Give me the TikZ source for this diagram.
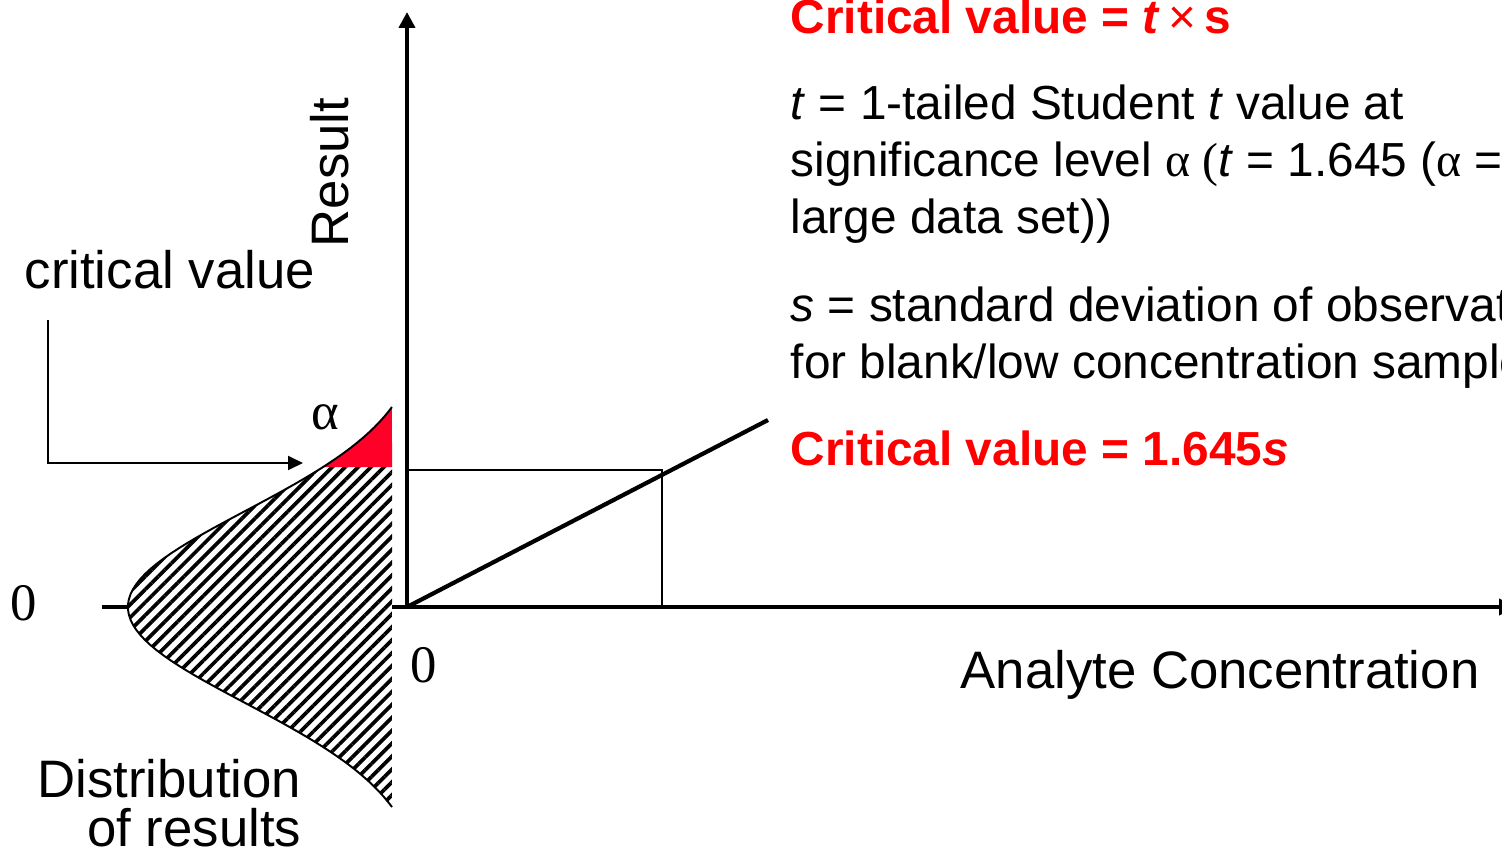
\documentclass[tikz,border=0pt]{standalone}
\usepackage{fontspec}
\setmainfont{Liberation Sans}
\newfontfamily\timesfont{Liberation Serif}
\usetikzlibrary{arrows.meta,patterns.meta}
\definecolor{critred}{RGB}{255,0,0}
\definecolor{alphared}{RGB}{255,0,40}
\newcommand{\bigtext}{\fontsize{15}{13.7}\selectfont}
\newcommand{\smalltext}{\fontsize{13.6}{16.2}\selectfont}
\tikzset{
  axis/.style={line width=1.3pt, -{Triangle[length=0.16cm,width=0.16cm]}},
  thinline/.style={line width=0.55pt},
  hatch/.style={pattern={Lines[angle=45,distance=2.6pt,line width=1.05pt]}},
  lbl/.style={inner sep=0pt, font=\bigtext},
  note/.style={inner sep=0pt, font=\smalltext, align=left, anchor=north west},
  heading/.style={inner sep=0pt, font=\smalltext\bfseries, text=critred, anchor=base west}
}

\begin{document}
\begin{tikzpicture}[declare function={bell(\t)=-2.79+2.98*(1-exp(-(\t)*(\t)/1.843));}]
\useasboundingbox (-4.07,-2.44) rectangle (10.95,6.07);
% axes
\coordinate (O) at (0,0);
\coordinate (xstart) at (-3.05,0);
\coordinate (xend) at (11.08,0);
\coordinate (ytop) at (0,5.95);
\draw[axis] (xstart) -- (xend);
\draw[axis] (O) -- (ytop);
% distribution of results
\fill[white] plot[domain=-2:2,samples=80] ({bell(\x)},\x) -- cycle;
\path[hatch] plot[domain=-2:1.4,samples=70] ({bell(\x)},\x) -- (-0.15,1.4) -- cycle;
\fill[alphared] plot[domain=1.4:2,samples=20] ({bell(\x)},\x) -- (-0.15,1.4) -- cycle;
\draw[thinline] plot[domain=-2:2,samples=80] ({bell(\x)},\x);
% calibration line
\coordinate (lineend) at (3.61,1.87);
\draw[line width=1.2pt] (O) -- (lineend);
\coordinate (critlevel) at (0,1.37);
\coordinate (critx) at (2.55,0);
\draw[thinline] (critlevel) -| (critx);
% arrow to critical value
\coordinate (arrstart) at (-3.59,2.87);
\coordinate (arrtip) at (-1.04,1.44);
\draw[thinline,-{Triangle[length=0.15cm,width=0.14cm]}] (arrstart) |- (arrtip);
% labels
\node[lbl,anchor=base west] (critlabel) at (-3.83,3.19) {critical value};
\node[lbl,rotate=90,anchor=base west] (resultlabel) at (-0.59,3.59) {Result};
\node[lbl,font=\bigtext\timesfont] (alpha) at (-0.82,1.90) {α};
\node[lbl,font=\bigtext\timesfont] (zeroy) at (-3.83,0.04) {0};
\node[lbl,font=\bigtext\timesfont] (zerox) at (0.17,-0.58) {0};
\node[lbl,align=right,anchor=north east] (distlabel) at (-1.05,-1.52) {Distribution\\of results};
\node[lbl,anchor=base west] (xlabel) at (5.53,-0.81) {Analyte Concentration};
% right text block
\node[heading] (crit1) at (3.83,5.73) {Critical value = \textit{t}\,{\mdseries ×}\,s};
\node[note] (tdef) at (3.83,5.23) {\textit{t} = 1-tailed Student \textit{t} value at\\significance level {\timesfont α (}\textit{t} = 1.645 ({\timesfont α} =\\large data set))};
\node[note] (sdef) at (3.83,3.21) {\textit{s} = standard deviation of observations\\for blank/low concentration samples};
\node[heading] (crit2) at (3.83,1.42) {Critical value = 1.645\textit{s}};
\end{tikzpicture}
\end{document}
